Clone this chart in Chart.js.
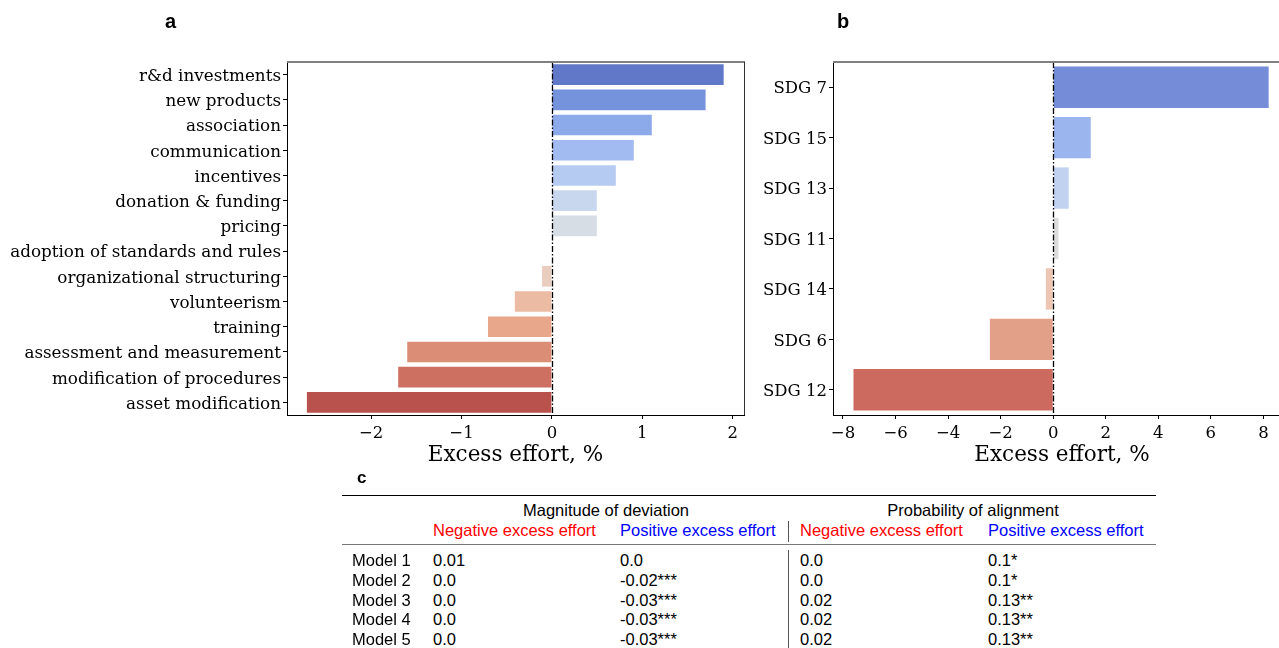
<!DOCTYPE html>
<html><head><meta charset="utf-8">
<script src="https://cdn.jsdelivr.net/npm/chart.js@4.4.1/dist/chart.umd.min.js"></script>
<style>
html,body{margin:0;padding:0;}
body{width:1279px;height:648px;overflow:hidden;background:#fff;position:relative;font-family:"Liberation Sans",Arial,sans-serif;color:#000;}
canvas{position:absolute;top:0;}
#ca{left:0;}
#cb{left:750px;}
.panel{position:absolute;font-weight:bold;line-height:20px;}
.t{position:absolute;font-size:16.5px;line-height:20px;white-space:nowrap;}
.hl{position:absolute;background:#000;}
</style>
</head><body>
<canvas id="ca" width="760" height="470"></canvas>
<canvas id="cb" width="545" height="470"></canvas>
<div class="panel" style="left:165px;top:11px;font-size:20px;">a</div>
<div class="panel" style="left:837px;top:11px;font-size:20px;">b</div>
<div class="panel" style="left:357px;top:467.5px;font-size:17px;">c</div>
<div id="tbl"></div>
<script>
// ---------- data ----------
const mechanismLabels = ["r&d investments","new products","association","communication","incentives","donation & funding","pricing","adoption of standards and rules","organizational structuring","volunteerism","training","assessment and measurement","modification of procedures","asset modification"];
const mechanismEffort = [1.90,1.70,1.105,0.906,0.707,0.497,0.497,0.0,-0.11,-0.41,-0.707,-1.60,-1.70,-2.71];
const sdgLabels = ["SDG 7","SDG 15","SDG 13","SDG 11","SDG 14","SDG 6","SDG 12"];
const sdgEffort = [8.20,1.43,0.59,0.20,-0.28,-2.41,-7.60];

const tableGroups = ["Magnitude of deviation","Probability of alignment"];
const tableSubheads = ["Negative excess effort","Positive excess effort","Negative excess effort","Positive excess effort"];
const modelNames = ["Model 1","Model 2","Model 3","Model 4","Model 5"];
const magNeg = ["0.01","0.0","0.0","0.0","0.0"];
const magPos = ["0.0","-0.02***","-0.03***","-0.03***","-0.03***"];
const probNeg = ["0.0","0.0","0.02","0.02","0.02"];
const probPos = ["0.1*","0.1*","0.13**","0.13**","0.13**"];

// ---------- styles ----------
const paletteA = ["#6178c9","#7592dc","#8ca9e9","#a2bbf1","#b6cbf2","#c8d6ee","#d6dde5","#dddcdc","#e9cdbf","#ebbba4","#e8a68b","#dc8d76","#cd7062","#b9524c"];
const paletteB = ["#758dd9","#9bb5ef","#c0d2f0","#dcdcdc","#edc6b4","#e3a089","#cc6a5f"];
const SERIF = "'DejaVu Serif', serif";

const framePlugin = {
  id:'frame',
  afterDatasetsDraw(chart){
    const {ctx, chartArea:{left,right,top,bottom}, scales:{x}} = chart;
    ctx.save();
    const x0 = Math.round(x.getPixelForValue(0))+0.5;
    ctx.strokeStyle='#000'; ctx.lineWidth=1.3; ctx.setLineDash([6,2,1.5,2]);
    ctx.beginPath(); ctx.moveTo(x0, top); ctx.lineTo(x0, bottom); ctx.stroke();
    ctx.setLineDash([]);
    ctx.strokeStyle='#808080'; ctx.lineWidth=2;
    ctx.beginPath(); ctx.moveTo(left, top); ctx.lineTo(right+1, top); ctx.stroke();
    ctx.strokeStyle='#333'; ctx.lineWidth=1;
    ctx.beginPath(); ctx.moveTo(right+0.5, top); ctx.lineTo(right+0.5, bottom); ctx.stroke();
    ctx.restore();
  }
};

function makeChart(id, labels, values, colors, opts){
  return new Chart(document.getElementById(id), {
    type:'bar',
    data:{labels, datasets:[{data:values, backgroundColor:colors, borderWidth:0, barPercentage:0.82, categoryPercentage:1}]},
    options:{
      indexAxis:'y', responsive:false, animation:false,
      layout:{padding:{top:62, right:opts.padRight, left:0, bottom:0}},
      plugins:{legend:{display:false}, tooltip:{enabled:false}},
      scales:{
        x:{
          type:'linear', min:opts.min, max:opts.max,
          ticks:{stepSize:opts.step, includeBounds:false, color:'#000', padding:5,
                 font:{family:SERIF, size:16.5},
                 callback:v=>String(v).replace('-','\u2212')},
          grid:{display:true, drawOnChartArea:false, drawTicks:true, tickLength:4, tickColor:'#000'},
          border:{display:true, color:'#000', width:1},
          title:{display:true, text:'Excess effort, %', color:'#000', font:{family:SERIF, size:21.5}, padding:{top:0,bottom:2}},
          afterFit:s=>{ s.height = 55; }
        },
        y:{
          type:'category',
          ticks:{color:'#000', padding:2, labelOffset:2, font:{family:SERIF, size:opts.yFont}, autoSkip:false},
          grid:{display:true, offset:false, drawOnChartArea:false, drawTicks:true, tickLength:4, tickColor:'#000'},
          border:{display:true, color:'#000', width:1},
          afterFit:s=>{ s.width = opts.yWidth; }
        }
      }
    },
    plugins:[framePlugin]
  });
}

makeChart('ca', mechanismLabels, mechanismEffort, paletteA, {min:-2.93, max:2.125, step:1, yWidth:287, padRight:16, yFont:16.8});
makeChart('cb', sdgLabels, sdgEffort, paletteB, {min:-8.38, max:9.05, step:2, yWidth:83, padRight:4, yFont:16.5});

// ---------- table c ----------
const tbl = document.getElementById('tbl');
function txt(s, x, yc, color, align){
  const d = document.createElement('div');
  d.className='t'; d.textContent=s;
  d.style.top=(yc-10)+'px';
  if(align==='center'){ d.style.left=(x-200)+'px'; d.style.width='400px'; d.style.textAlign='center'; }
  else d.style.left=x+'px';
  if(color) d.style.color=color;
  tbl.appendChild(d);
}
function line(x,y,w,h,c){
  const d=document.createElement('div'); d.className='hl';
  Object.assign(d.style,{left:x+'px',top:y+'px',width:w+'px',height:h+'px',background:c});
  tbl.appendChild(d);
}
line(342,494.7,814,1.4,'#000');
line(342,543.7,814,1.4,'#777');
line(788,521,1,21,'#555');
line(788,550,1,98,'#555');
txt(tableGroups[0], 606, 510, null, 'center');
txt(tableGroups[1], 973, 510, null, 'center');
const subX=[433,620,800,988], subC=['#ff0000','#0000ff','#ff0000','#0000ff'];
tableSubheads.forEach((s,i)=>txt(s, subX[i], 530, subC[i]));
const rowY=[560,579.5,599.5,619,639];
modelNames.forEach((m,i)=>{
  txt(m,352,rowY[i]);
  txt(magNeg[i],433,rowY[i]);
  txt(magPos[i],620,rowY[i]);
  txt(probNeg[i],800,rowY[i]);
  txt(probPos[i],988,rowY[i]);
});
</script>
</body></html>
